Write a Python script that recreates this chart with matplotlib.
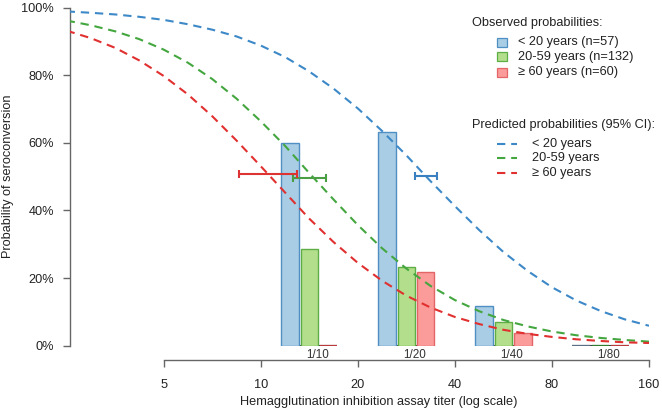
import numpy as np
import matplotlib
matplotlib.use("Agg")
import matplotlib.pyplot as plt
from matplotlib.patches import Rectangle
from matplotlib.lines import Line2D

plt.rcParams['font.family'] = ['Liberation Sans', 'DejaVu Sans']

# ---------------- data ----------------
groups = ['1/10', '1/20', '1/40', '1/80']
group_lower_titer = [10, 20, 40, 80]
label_titer = [15, 30, 60, 120]

obs_lt20 = [0.600, 0.631, 0.118, 0.0]
obs_20_59 = [0.286, 0.233, 0.071, 0.0]
obs_ge60 = [0.0, 0.217, 0.037, 0.0]

titer_grid = [2.50, 2.97, 3.54, 4.20, 5.00, 5.95, 7.07, 8.41, 10.0, 11.9, 14.1, 16.8,
              20.0, 23.8, 28.3, 33.6, 40.0, 47.6, 56.6, 67.3, 80.0, 95.1, 113.1, 134.5, 160.0]
pred_lt20 = [0.989, 0.985, 0.980, 0.973, 0.964, 0.951, 0.935, 0.915, 0.888, 0.854, 0.812, 0.761,
             0.702, 0.635, 0.563, 0.487, 0.413, 0.342, 0.277, 0.221, 0.173, 0.134, 0.103, 0.078, 0.059]
pred_20_59 = [0.962, 0.948, 0.930, 0.907, 0.876, 0.837, 0.789, 0.731, 0.664, 0.591, 0.512, 0.433,
              0.357, 0.288, 0.228, 0.177, 0.135, 0.102, 0.076, 0.057, 0.042, 0.031, 0.023, 0.017, 0.012]
pred_ge60 = [0.932, 0.910, 0.881, 0.844, 0.798, 0.743, 0.679, 0.607, 0.531, 0.453, 0.377, 0.307,
             0.245, 0.192, 0.148, 0.113, 0.085, 0.064, 0.047, 0.035, 0.026, 0.019, 0.014, 0.010, 0.008]

# 95% CI of titer giving 50% probability
ci_low = {'lt20': 30.1, '20_59': 12.6, 'ge60': 8.58}
ci_high = {'lt20': 35.2, '20_59': 15.9, 'ge60': 12.98}
ci_y = {'lt20': 0.503, '20_59': 0.495, 'ge60': 0.507}

x_ticks = [5, 10, 20, 40, 80, 160]
y_ticks = [0, 0.2, 0.4, 0.6, 0.8, 1.0]
y_ticklabels = ['0%', '20%', '40%', '60%', '80%', '100%']

obs_labels = ['< 20 years (n=57)', '20-59 years (n=132)', '\u2265 60 years (n=60)']
pred_labels = ['< 20 years', '20-59 years', '\u2265 60 years']

# ---------------- styles ----------------
W, H = 662, 412
fill_cols = ['#a8cde4', '#b3df8c', '#fb9b9a']
edge_cols = ['#4f8fc4', '#5fae45', '#e26567']
zero_cols = ['#5a6f86', '#2f7d2f', '#b83a3a']
line_cols = ['#3d89c8', '#44a63f', '#e0302f']
ci_cols = ['#3a7fbf', '#4a9e44', '#dd3333']
axis_col = '#666666'
text_col = '#222222'

fig = plt.figure(figsize=(W / 100, H / 100), dpi=100)
px_left, px_right = 70, 649
px_top, px_bottom = 7.7, 345.7
ax = fig.add_axes([px_left / W, 1 - px_bottom / H, (px_right - px_left) / W, (px_bottom - px_top) / H])
ax.set_xscale('log', base=2)
L_right = np.log2(160)
L_left = np.log2(5) - (163.7 - px_left) / 97.06
ax.set_xlim(2 ** L_left, 2 ** L_right)
ax.set_ylim(0, 1)

# bars
series = [obs_lt20, obs_20_59, obs_ge60]
offsets = [-0.2, 0.0, 0.2]
hw = 0.09
for gi, low in enumerate(group_lower_titer):
    c = np.log2(low) + 0.5
    ax.plot([2 ** (c - 0.2 - hw), 2 ** (c + 0.2 + hw)], [0, 0], color='#444444', lw=1.5,
            solid_capstyle='butt', zorder=2)
    for si, vals in enumerate(series):
        v = vals[gi]
        x0 = 2 ** (c + offsets[si] - hw)
        x1 = 2 ** (c + offsets[si] + hw)
        if v > 0:
            ax.add_patch(Rectangle((x0, 0), x1 - x0, v, facecolor=fill_cols[si],
                                   edgecolor=edge_cols[si], lw=1.0, zorder=3))
        else:
            if si > 0 or gi == len(group_lower_titer) - 1:
                ax.plot([x0, x1], [0, 0], color=zero_cols[si], lw=1.6,
                        solid_capstyle='butt', zorder=3)
    ax.text(label_titer[gi], -0.010, groups[gi], ha='center', va='top',
            fontsize=8.4, color='#333333', zorder=4, clip_on=False)

# predicted curves
for vals, col in zip([pred_lt20, pred_20_59, pred_ge60], line_cols):
    ax.plot(titer_grid, vals, color=col, lw=1.5, dashes=(4, 2.8), zorder=5)

# CI error bars
for key, col in zip(['lt20', '20_59', 'ge60'], ci_cols):
    lo, hi = ci_low[key], ci_high[key]
    mid = np.sqrt(lo * hi)
    ax.errorbar([mid], [ci_y[key]], xerr=[[mid - lo], [hi - mid]], fmt='none',
                ecolor=col, elinewidth=1.5, capsize=3.2, capthick=1.5, zorder=6)

# axes styling
for s in ['top', 'right']:
    ax.spines[s].set_visible(False)
ax.spines['bottom'].set_position(('outward', 10.3))
ax.spines['bottom'].set_bounds(5, 160)
ax.spines['left'].set_bounds(0, 1)
for s in ['bottom', 'left']:
    ax.spines[s].set_color(axis_col)
    ax.spines[s].set_linewidth(1.0)
ax.set_xticks(x_ticks)
ax.set_xticklabels([str(t) for t in x_ticks])
ax.xaxis.set_minor_locator(matplotlib.ticker.NullLocator())
ax.set_yticks(y_ticks)
ax.set_yticklabels(y_ticklabels)
ax.tick_params(axis='both', colors=axis_col, length=5, width=1.0, labelcolor=text_col,
               labelsize=9.2)
ax.tick_params(axis='x', pad=8.5)
ax.tick_params(axis='y', pad=6.5)
ax.patch.set_visible(False)

# axis titles (pixel positions)
fig.text(379 / W, 1 - 401.7 / H, 'Hemagglutination inhibition assay titer (log scale)',
         ha='center', va='center', fontsize=9.2, color=text_col)
fig.text(8.5 / W, 1 - 176.7 / H, 'Probability of seroconversion', rotation=90,
         ha='center', va='center', fontsize=9.2, color=text_col)

# legend via overlay axes in pixel coords
lax = fig.add_axes([0, 0, 1, 1])
lax.set_xlim(0, W)
lax.set_ylim(H, 0)
lax.axis('off')
lfs = 9.2
lax.text(471.7, 23, 'Observed probabilities:', ha='left', va='center', fontsize=lfs, color=text_col)
for i, (lab, y) in enumerate(zip(obs_labels, [42, 56.5, 72])):
    lax.add_patch(Rectangle((497, y - 4.5), 9.5, 9, facecolor=fill_cols[i],
                            edgecolor=edge_cols[i], lw=0.9))
    lax.text(518, y, lab, ha='left', va='center', fontsize=lfs, color=text_col)
lax.text(471.7, 125, 'Predicted probabilities (95% CI):', ha='left', va='center',
         fontsize=lfs, color=text_col)
for i, (lab, y) in enumerate(zip(pred_labels, [144, 158.3, 172.7])):
    lax.add_line(Line2D([497, 517], [y, y], color=line_cols[i], lw=1.5, dashes=(4, 2.8)))
    lax.text(531.7, y, lab, ha='left', va='center', fontsize=lfs, color=text_col)

fig.savefig('out.png', dpi=100)
